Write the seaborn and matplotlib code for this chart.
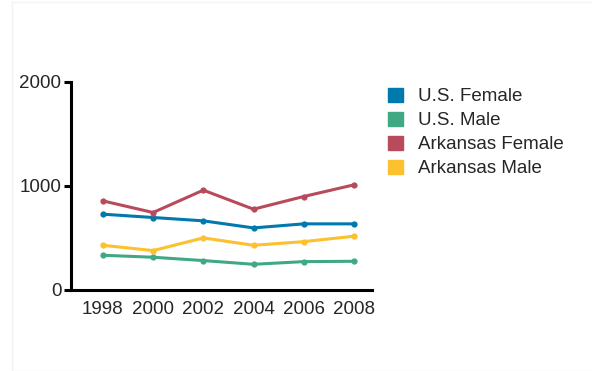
import matplotlib
matplotlib.use("Agg")
import matplotlib.pyplot as plt
import matplotlib.patches as mpatches
import pandas as pd
import seaborn as sns

years = [1998, 2000, 2002, 2004, 2006, 2008]
series_names = ["U.S. Female", "U.S. Male", "Arkansas Female", "Arkansas Male"]
us_female = [729, 697, 665, 597, 636, 636]
us_male = [334, 315, 283, 247, 273, 276]
ar_female = [857, 745, 960, 777, 899, 1011]
ar_male = [430, 379, 501, 430, 465, 517]
colors = ["#0079ad", "#40a983", "#b94a5c", "#fdc02f"]


def main():
    sns.set_theme(style="white")
    plt.rcParams["font.family"] = ["Liberation Sans", "DejaVu Sans"]

    df = pd.DataFrame({
        "year": years * 4,
        "value": us_female + us_male + ar_female + ar_male,
        "series": [s for s in series_names for _ in years],
    })

    fig = plt.figure(figsize=(5.92, 3.71), dpi=100)
    fig.patches.append(mpatches.Rectangle((12 / 592, 0), 1, 1 - 2 / 371, transform=fig.transFigure,
                                          fill=False, edgecolor="#f2f2f2", linewidth=1))
    ax = fig.add_axes([71 / 592, 1 - 290 / 371, (372 - 71) / 592, (290 - 82) / 371])

    sns.lineplot(data=df, x="year", y="value", hue="series", hue_order=series_names,
                 palette=colors, marker="o", markersize=4.5, markeredgewidth=0,
                 linewidth=2.2, legend=False, ax=ax)

    ax.set_xlim(1996.73, 2008.72)
    ax.set_ylim(0, 2000)
    ax.set_xticks(years)
    ax.set_yticks([0, 1000, 2000])
    ax.set_xlabel("")
    ax.set_ylabel("")
    for side in ["top", "right"]:
        ax.spines[side].set_visible(False)
    for side in ["left", "bottom"]:
        ax.spines[side].set_color("black")
        ax.spines[side].set_linewidth(2.2)
    ax.tick_params(axis="y", left=True, length=5, width=2.2, color="black", labelsize=13.5, pad=2)
    ax.tick_params(axis="x", bottom=False, labelsize=13.5, pad=2)

    handles = [mpatches.Patch(color=c, label=n) for c, n in zip(colors, series_names)]
    fig.legend(handles=handles, loc="upper left", bbox_to_anchor=(381 / 592, 1 - 80 / 371),
               frameon=False, fontsize=13.5, handlelength=0.8, handleheight=0.8,
               handletextpad=0.75, labelspacing=0.34, borderaxespad=0)

    fig.savefig("out.png", dpi=100)
    plt.close(fig)


if __name__ == "__main__":
    main()
